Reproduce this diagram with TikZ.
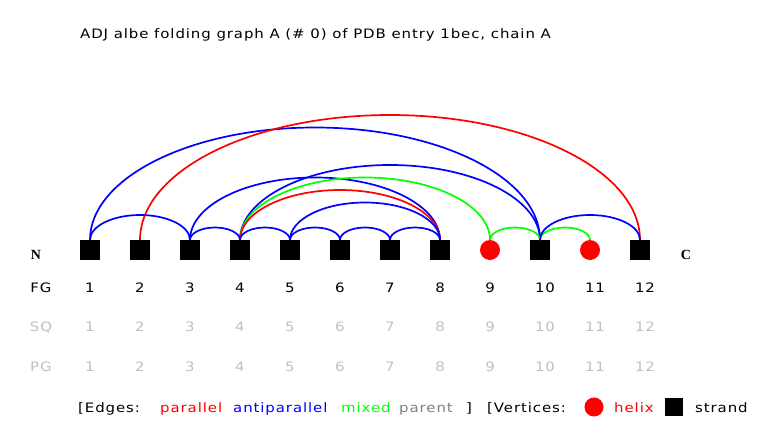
\documentclass[tikz,border=0pt]{standalone}
\usepackage{fontspec}
\newfontfamily\labfont[FakeStretch=1.15,LetterSpace=7]{DejaVu Sans}
\newfontfamily\ncfont{Liberation Serif}
\usetikzlibrary{calc}
\definecolor{pblue}{RGB}{0,0,255}
\definecolor{pred}{RGB}{255,0,0}
\definecolor{pgreen}{RGB}{0,255,0}
\definecolor{pgray}{RGB}{128,128,128}
\definecolor{plight}{RGB}{192,192,192}
\newcommand\foldarc[3]{\draw[edgeline,#1] let \p1=(#2.north), \p2=(#3.north), \n1={(\x2-\x1)/2} in (\p1) arc[start angle=180,end angle=0,x radius={\n1*1pt},y radius={\n1*0.5pt}];}
\begin{document}
\begin{tikzpicture}[x=1pt,y=1pt,
  strandv/.style={fill=black,minimum size=20pt,inner sep=0pt,outer sep=0pt},
  helixv/.style={circle,fill=pred,minimum size=20pt,inner sep=0pt,outer sep=0pt},
  txt/.style={font=\labfont\fontsize{13}{15}\selectfont,inner sep=0pt,anchor=base west},
  num/.style={font=\labfont\fontsize{13}{15}\selectfont,inner sep=0pt,anchor=base},
  endlab/.style={font=\ncfont\bfseries\fontsize{14}{16}\selectfont,inner sep=0pt,anchor=base},
  edgeline/.style={line width=1.7pt}]
\useasboundingbox[fill=white] (0,0) rectangle (760,440);
% title
\node[txt] (title) at (80,401) {ADJ albe folding graph A (\# 0) of PDB entry 1bec, chain A};
% vertices
\foreach \i in {1,...,8,10,12} {\node[strandv] (v\i) at ({40+50*\i},190) {};}
\node[helixv] (v9) at (490,190) {};
\node[helixv] (v11) at (590,190) {};
% edges
\foldarc{pblue}{v1}{v10}
\foldarc{pred}{v2}{v12}
\foldarc{pblue}{v4}{v10}
\foldarc{pblue}{v3}{v8}
\foldarc{pgreen}{v4}{v9}
\foldarc{pred}{v4}{v8}
\foldarc{pblue}{v5}{v8}
\foldarc{pblue}{v1}{v3}
\foldarc{pblue}{v3}{v4}
\foldarc{pblue}{v4}{v5}
\foldarc{pblue}{v5}{v6}
\foldarc{pblue}{v6}{v7}
\foldarc{pblue}{v7}{v8}
\foldarc{pgreen}{v9}{v10}
\foldarc{pgreen}{v10}{v11}
\foldarc{pblue}{v10}{v12}
% N and C
\node[endlab] (nterm) at (36,181) {N};
\node[endlab] (cterm) at (686,181) {C};
% rows
\node[num] (fg) at (41,148) {FG};
\node[num,text=plight] (sq) at (41,109) {SQ};
\node[num,text=plight] (pg) at (41,69) {PG};
\foreach \i in {1,...,12} {
  \pgfmathsetmacro\xx{40+50*\i+(\i>9?5:0)}
  \node[num] (fg\i) at (\xx,148) {\i};
  \node[num,text=plight] (sq\i) at (\xx,109) {\i};
  \node[num,text=plight] (pg\i) at (\xx,69) {\i};
}
% legend
\node[txt] (le1) at (78,28) {[Edges:};
\node[txt,text=pred] (le2) at (160,28) {parallel};
\node[txt,text=pblue] (le3) at (233,28) {antiparallel};
\node[txt,text=pgreen] (le4) at (341,28) {mixed};
\node[txt,text=pgray] (le5) at (399,28) {parent};
\node[txt] (le6) at (466,28) {]};
\node[txt] (le7) at (487,28) {[Vertices:};
\node[circle,fill=pred,minimum size=19pt,inner sep=0pt] (lh) at (594,33) {};
\node[txt,text=pred] (le8) at (614,28) {helix};
\node[fill=black,minimum size=18pt,inner sep=0pt] (ls) at (674,33) {};
\node[txt] (le9) at (695,28) {strand};
\end{tikzpicture}
\end{document}
